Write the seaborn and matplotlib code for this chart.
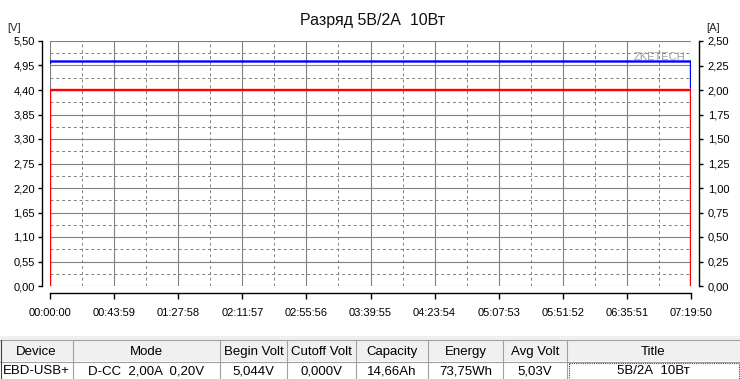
import matplotlib
matplotlib.use("Agg")
import matplotlib.pyplot as plt
import seaborn as sns
import pandas as pd
from matplotlib.ticker import FixedLocator, FuncFormatter
from matplotlib.patches import Rectangle

# ---------------- data ----------------
title = "Разряд 5В/2А  10Вт"
time_v = [0, 20, 26390, 26390]          # seconds
volt = [5.00, 5.04, 5.04, 4.45]          # V
time_a = [0, 0, 26390, 26390]            # seconds
curr = [0.00, 2.00, 2.00, 0.00]          # A
x_tick_labels = ["00:00:00", "00:43:59", "01:27:58", "02:11:57", "02:55:56",
                 "03:39:55", "04:23:54", "05:07:53", "05:51:52", "06:35:51",
                 "07:19:50"]
v_ticks = [0.00, 0.55, 1.10, 1.65, 2.20, 2.75, 3.30, 3.85, 4.40, 4.95, 5.50]
a_ticks = [0.00, 0.25, 0.50, 0.75, 1.00, 1.25, 1.50, 1.75, 2.00, 2.25, 2.50]
table_cols = ["Device", "Mode", "Begin Volt", "Cutoff Volt", "Capacity",
              "Energy", "Avg Volt", "Title"]
table_vals = ["EBD-USB+", "D-CC  2,00A  0,20V", "5,044V", "0,000V", "14,66Ah",
              "73,75Wh", "5,03V", "5В/2А  10Вт"]


def to_sec(s):
    h, m, sec = (int(p) for p in s.split(":"))
    return h * 3600 + m * 60 + sec


x_ticks = [to_sec(s) for s in x_tick_labels]

# ---------------- style ----------------
sns.set_theme(style="white")
plt.rcParams["font.family"] = ["Liberation Sans", "DejaVu Sans"]
plt.rcParams["axes.unicode_minus"] = False

W, H = 740, 379
fig = plt.figure(figsize=(W / 100, H / 100), dpi=100)
fig.patch.set_facecolor("white")

ax = fig.add_axes([50 / W, 1 - 286 / H, (691 - 50) / W, (286 - 41) / H])
ax.set_facecolor("white")
ax.set_xlim(x_ticks[0], x_ticks[-1])
ax.set_ylim(v_ticks[0], v_ticks[-1])

ax2 = ax.twinx()
ax2.set_ylim(a_ticks[0], a_ticks[-1])

dfv = pd.DataFrame({"t": time_v, "v": volt})
dfa = pd.DataFrame({"t": time_a, "a": curr})
sns.lineplot(data=dfa, x="t", y="a", ax=ax2, color="#ff0000", lw=1.7,
             estimator=None, sort=False, zorder=3)
sns.lineplot(data=dfv, x="t", y="v", ax=ax, color="#0000ff", lw=1.7,
             estimator=None, sort=False, zorder=4)
ax.set_zorder(2)
ax2.set_zorder(3)
ax.patch.set_visible(True)
ax2.patch.set_visible(False)

# ticks / grid
ax.xaxis.set_major_locator(FixedLocator(x_ticks))
ax.xaxis.set_minor_locator(FixedLocator(
    [(a + b) / 2 for a, b in zip(x_ticks[:-1], x_ticks[1:])]))
ax.yaxis.set_major_locator(FixedLocator(v_ticks))
ax.yaxis.set_minor_locator(FixedLocator(
    [(a + b) / 2 for a, b in zip(v_ticks[:-1], v_ticks[1:])]))
ax2.yaxis.set_major_locator(FixedLocator(a_ticks))
ax.set_xticklabels(x_tick_labels)
ax.yaxis.set_major_formatter(FuncFormatter(lambda v, p: f"{v:.2f}".replace(".", ",")))
ax2.yaxis.set_major_formatter(FuncFormatter(lambda v, p: f"{v:.2f}".replace(".", ",")))

ax.grid(which="major", color="#808080", lw=0.8, ls="-")
ax.grid(which="minor", color="#808080", lw=0.7, ls=(0, (3, 3)))
ax2.grid(False)
ax.set_axisbelow(True)

for a in (ax, ax2):
    for s in a.spines.values():
        s.set_visible(False)
ax.spines["left"].set_visible(True)
ax.spines["bottom"].set_visible(True)
ax2.spines["right"].set_visible(True)
ax.spines["left"].set_position(("outward", 6))
ax.spines["bottom"].set_position(("outward", 5))
ax2.spines["right"].set_position(("outward", 6))
for s in (ax.spines["left"], ax.spines["bottom"], ax2.spines["right"]):
    s.set_color("black")
    s.set_linewidth(1.0)

ax.tick_params(axis="y", which="major", direction="out", length=3, width=1,
               color="black", labelsize=8, pad=2, left=True, labelcolor="black")
ax.tick_params(axis="x", which="major", direction="out", length=4, width=1,
               color="black", labelsize=8, pad=7, bottom=True, labelcolor="black")
ax.tick_params(which="minor", length=0)
ax2.tick_params(axis="y", which="major", direction="out", length=3, width=1,
                color="black", labelsize=8, pad=3, right=True, labelcolor="black")
ax.set_xlabel("")
ax.set_ylabel("")
ax2.set_ylabel("")

# titles / unit labels
fig.text(373 / W, 1 - 20 / H, title, ha="center", va="center", fontsize=11.5,
         color="#101010")
fig.text(14 / W, 1 - 28 / H, "[V]", ha="center", va="center", fontsize=8)
fig.text(713 / W, 1 - 28 / H, "[A]", ha="center", va="center", fontsize=8)

# watermarks
fig.text(659 / W, 1 - 57 / H, "ZKETECH", ha="center", va="center", fontsize=8,
         color="#a0a0a0")
fig.text(548 / W, 1 - 88 / H, "Nazim0077", ha="center", va="center", fontsize=17,
         color="#f2f2f2", fontweight="bold", zorder=0)

# ---------------- table ----------------
tax = fig.add_axes([0, 0, 1, 43 / H])
tax.set_xlim(0, W)
tax.set_ylim(379, 336)
tax.axis("off")
edges = [0, 73, 220, 287, 356, 428, 503, 567, 740]
tax.add_patch(Rectangle((0, 336), W, 4, facecolor="#f0f0f0", edgecolor="none"))
tax.add_patch(Rectangle((0, 340), W, 21, facecolor="#f0f0f0", edgecolor="none"))
tax.plot([0, W], [340, 340], color="#a0a0a0", lw=0.8)
tax.plot([0, W], [361.5, 361.5], color="#a0a0a0", lw=0.8)
for e in edges[1:-1]:
    tax.plot([e, e], [340, 379], color="#a0a0a0", lw=0.8)
tax.plot([0.5, 0.5], [340, 379], color="#404040", lw=0.8)
for i, (c, v) in enumerate(zip(table_cols, table_vals)):
    cx = (edges[i] + edges[i + 1]) / 2
    tax.text(cx, 352, c, ha="center", va="center", fontsize=9.5, color="black",
             zorder=3)
    tax.text(cx, 371, v, ha="center", va="center", fontsize=9.5, color="black",
             zorder=3)
tax.add_patch(Rectangle((568.5, 363), 170, 18, facecolor="none",
                        edgecolor="#404040", lw=0.8, ls=(0, (1, 1))))
tax.text(706, 343, ".ru", ha="center", va="center", fontsize=9,
         color="#f0e080", fontweight="bold", alpha=0.6, zorder=0)

fig.savefig("out.png", dpi=100, facecolor="white")
